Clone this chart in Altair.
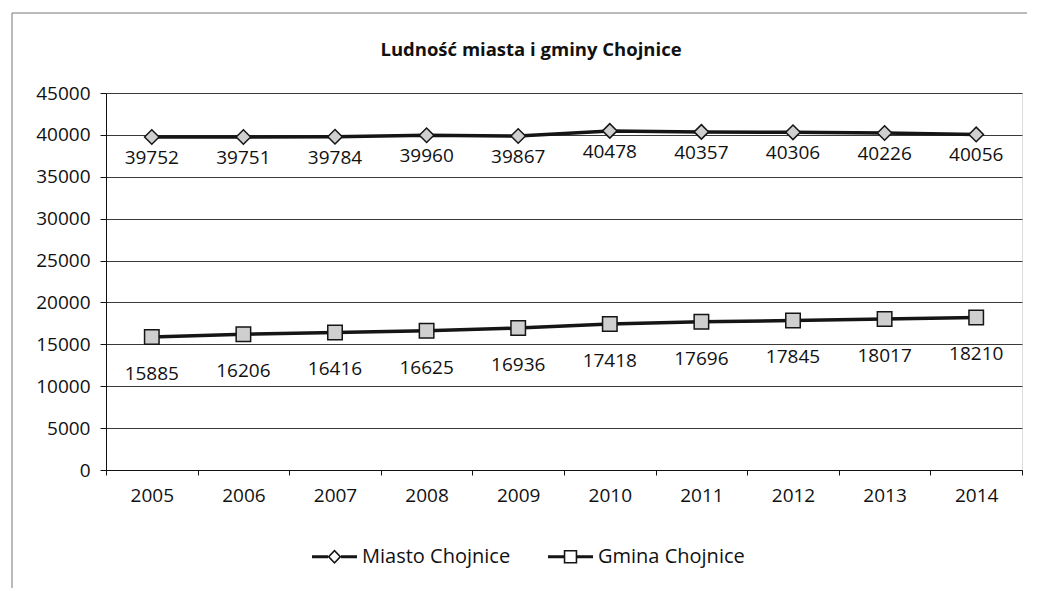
import altair as alt
import pandas as pd

years = ["2005", "2006", "2007", "2008", "2009", "2010", "2011", "2012", "2013", "2014"]
miasto = [39752, 39751, 39784, 39960, 39867, 40478, 40357, 40306, 40226, 40056]
gmina = [15885, 16206, 16416, 16625, 16936, 17418, 17696, 17845, 18017, 18210]
series_names = ["Miasto Chojnice", "Gmina Chojnice"]
y_ticks = [0, 5000, 10000, 15000, 20000, 25000, 30000, 35000, 40000, 45000]
title_text = "Ludność miasta i gminy Chojnice"

rows = []
for yr, m, g in zip(years, miasto, gmina):
    rows.append({"year": yr, "series": series_names[0], "value": m})
    rows.append({"year": yr, "series": series_names[1], "value": g})
df = pd.DataFrame(rows)

FONT = "Open Sans"
LINE = "#151515"
FILL = "#cfcfcf"

x_enc = alt.X(
    "year:N", sort=years,
    scale=alt.Scale(type="band", paddingInner=0, paddingOuter=0),
    axis=alt.Axis(title=None, labelAngle=0, tickBand="extent", grid=False,
                  domainColor="#111", tickColor="#111", tickSize=5,
                  labelPadding=11, labelFontSize=19, labelFont=FONT,
                  labelColor="#111"),
)
y_enc = alt.Y(
    "value:Q",
    scale=alt.Scale(domain=[0, 45000], nice=False, zero=True),
    axis=alt.Axis(title=None, values=y_ticks, format="d", grid=True,
                  gridColor="#3a3a3a", gridWidth=1, domainColor="#111",
                  tickColor="#111", tickSize=6, labelPadding=10,
                  labelFontSize=19, labelFont=FONT, labelColor="#111"),
)

base = alt.Chart(df)

lines = base.mark_line(color=LINE, strokeWidth=3.5).encode(
    x=x_enc, y=y_enc, detail="series:N"
)

points = base.mark_point(filled=True, fill=FILL, stroke=LINE, strokeWidth=1.5,
                         opacity=1, size=210).encode(
    x=x_enc, y=y_enc,
    shape=alt.Shape("series:N", scale=alt.Scale(domain=series_names,
                                                range=["diamond", "square"]),
                    legend=None),
)

labels_m = base.transform_filter(alt.datum.series == series_names[0]).mark_text(
    dy=21, fontSize=19, font=FONT, color="#111", baseline="middle"
).encode(x=x_enc, y=y_enc, text=alt.Text("value:Q", format="d"))

labels_g = base.transform_filter(alt.datum.series == series_names[1]).mark_text(
    dy=37, fontSize=19, font=FONT, color="#111", baseline="middle"
).encode(x=x_enc, y=y_enc, text=alt.Text("value:Q", format="d"))

# legend symbols: line segments + outlined marker (filled outline ring)
legend_paths = [
    "M-1,-0.067H-0.29V0.067H-1Z M0.29,-0.067H1V0.067H0.29Z "
    "M0,-0.32L0.31,0L0,0.32L-0.31,0Z M0,-0.22L-0.21,0L0,0.22L0.21,0Z",
    "M-1,-0.067H-0.3V0.067H-1Z M0.3,-0.067H1V0.067H0.3Z "
    "M-0.3,-0.3H0.3V0.3H-0.3Z M-0.23,-0.23V0.23H0.23V-0.23Z",
]
legend_layer = base.mark_point(filled=True, fill=LINE, opacity=0).encode(
    x=x_enc, y=y_enc,
    shape=alt.Shape(
        "series:N",
        scale=alt.Scale(domain=series_names, range=legend_paths),
        legend=alt.Legend(
            title=None, orient="none", direction="horizontal",
            legendX=206, legendY=441, symbolSize=2025, symbolOpacity=1,
            symbolStrokeWidth=0, symbolFillColor=LINE,
            labelFontSize=20, labelFont=FONT,
            labelColor="#111", columnPadding=37, labelOffset=5,
        ),
    ),
)

one = alt.Data(values=[{}])
title_layer = alt.Chart(one).mark_text(
    fontSize=18.5, font=FONT, fontWeight="bold", color="#111",
    align="center", baseline="middle"
).encode(x=alt.value(425), y=alt.value(-43), text=alt.value(title_text))

frame = alt.Chart(one).mark_rule(color="#777", strokeWidth=1).encode(
    x=alt.value(-94), y=alt.value(-80), y2=alt.value(498)
)
frame_top = alt.Chart(one).mark_rule(color="#777", strokeWidth=1).encode(
    x=alt.value(-94), x2=alt.value(925), y=alt.value(-80)
)

chart = alt.layer(
    frame, frame_top, title_layer, lines, points, labels_m, labels_g, legend_layer
).resolve_scale(shape="independent").properties(
    width=916, height=377,
    padding={"left": 98, "top": 85, "right": 5, "bottom": 118},
    autosize=alt.AutoSizeParams(type="none"),
).configure_view(stroke=None).configure(background="white")

chart.save("out.html", embed_options={"renderer": "svg", "actions": False})
